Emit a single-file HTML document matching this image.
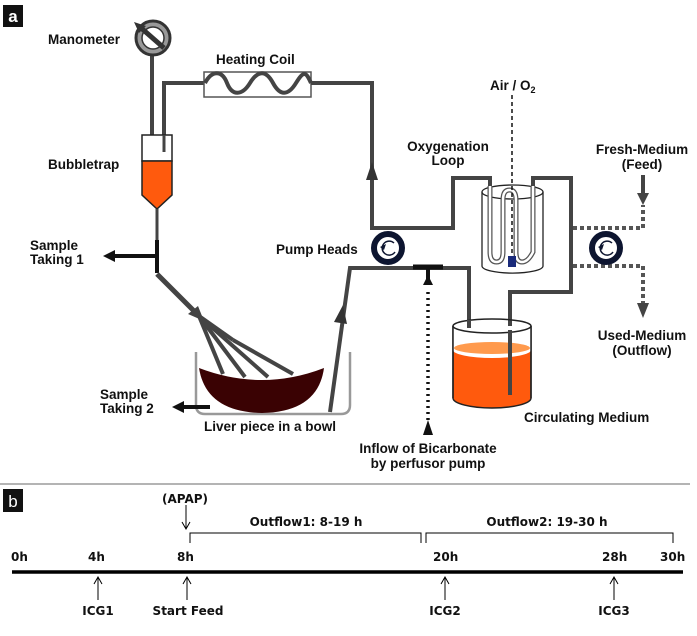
<!DOCTYPE html>
<html><head><meta charset="utf-8"><style>
html,body{margin:0;padding:0;background:#fff;}
svg{display:block;}
.l{font-family:"Liberation Sans",Arial,sans-serif;font-weight:bold;font-size:13.5px;fill:#111;}
.t{font-family:"DejaVu Sans",Verdana,sans-serif;font-weight:bold;font-size:12px;fill:#111;}
</style></head><body>
<svg width="697" height="636" viewBox="0 0 697 636" xmlns="http://www.w3.org/2000/svg">
<rect x="3" y="5" width="20" height="22" fill="#111"/>
<text x="13" y="22" text-anchor="middle" font-family="Liberation Sans,sans-serif" font-size="17" font-weight="bold" fill="#fff">a</text>
<rect x="3" y="489" width="20" height="23" fill="#111"/>
<text x="13" y="507" text-anchor="middle" font-family="Liberation Sans,sans-serif" font-size="17" fill="#fff">b</text>

<!-- manometer -->
<line x1="152" y1="55" x2="152" y2="135" stroke="#444" stroke-width="4"/>
<circle cx="153" cy="38" r="17" fill="#999" stroke="#333" stroke-width="3"/>
<circle cx="153" cy="38" r="11" fill="#fff" stroke="#333" stroke-width="1.5"/>
<line x1="164" y1="48" x2="140" y2="27" stroke="#333" stroke-width="5"/>
<path d="M134,22 L146,26 L139,33 z" fill="#333"/>
<text x="48" y="44" class="l">Manometer</text>

<!-- heating coil -->
<polyline points="164,152 164,83 205,83" fill="none" stroke="#444" stroke-width="4"/>
<rect x="204" y="72" width="107" height="25" fill="#fff" stroke="#555" stroke-width="1.5"/>
<path d="M205,83 C212,70 222,70 227,83 S242,96 250,83 S266,70 273,83 S288,96 296,83 S306,72 311,83" fill="none" stroke="#444" stroke-width="4"/>
<polyline points="311,83 372,83 372,228 453,228 453,178 490,178 490,198" fill="none" stroke="#444" stroke-width="4"/>
<polyline points="533,198 533,178 571,178 571,292 510,292 510,395" fill="none" stroke="#444" stroke-width="4"/>
<path d="M366,180 L372,162 L378,180 z" fill="#333"/>
<text x="216" y="64" class="l">Heating Coil</text>

<!-- bubbletrap -->
<rect x="142" y="135" width="30" height="26" fill="#fff" stroke="#222" stroke-width="1.5"/>
<path d="M142,161 L172,161 L172,195 L157,209 L142,195 z" fill="#ff5a0d" stroke="#222" stroke-width="1.5"/>
<line x1="164" y1="135" x2="164" y2="152" stroke="#444" stroke-width="3"/>
<text x="48" y="169" class="l">Bubbletrap</text>

<!-- sample 1 -->
<line x1="157" y1="209" x2="157" y2="240" stroke="#444" stroke-width="3"/>
<line x1="157" y1="240" x2="157" y2="273" stroke="#111" stroke-width="4"/>
<line x1="157" y1="256" x2="112" y2="256" stroke="#111" stroke-width="4"/>
<path d="M103,256 L115,250 L115,262 z" fill="#111"/>
<text x="30" y="250" class="l">Sample</text>
<text x="30" y="264" class="l">Taking 1</text>
<line x1="157" y1="274" x2="199" y2="316" stroke="#444" stroke-width="5"/>
<path d="M204,321 L188,314 L198,306 z" fill="#444"/>

<!-- bowl -->
<path d="M196,352 L196,405 Q196,414 205,414 L341,414 Q350,414 350,405 L350,352" fill="none" stroke="#999" stroke-width="2.5"/>
<path d="M199,368 Q262,392 324,368 Q318,412 262,413 Q206,412 199,368 z" fill="#3a0203"/>
<g stroke="#444" stroke-width="4">
<line x1="199" y1="316" x2="223" y2="374"/>
<line x1="199" y1="316" x2="245" y2="377"/>
<line x1="199" y1="316" x2="268" y2="377"/>
<line x1="199" y1="316" x2="233" y2="340"/>
<line x1="233" y1="340" x2="293" y2="374"/>
</g>
<line x1="210" y1="407" x2="182" y2="407" stroke="#111" stroke-width="4"/>
<path d="M172,407 L184,401 L184,413 z" fill="#111"/>
<text x="100" y="399" class="l">Sample</text>
<text x="100" y="413" class="l">Taking 2</text>
<text x="204" y="431" class="l">Liver piece in a bowl</text>

<!-- return pipe -->
<polyline points="330,412 350,268 469,268 469,328" fill="none" stroke="#444" stroke-width="4"/>
<path d="M334,322 L343,305 L347,324 z" fill="#333"/>
<text x="276" y="254" class="l">Pump Heads</text>
<circle cx="388" cy="248" r="14" fill="#fff" stroke="#0d1530" stroke-width="6"/>
<path d="M394,243 A7,7 0 1 0 395,252" fill="none" stroke="#0d1530" stroke-width="1.5"/>
<path d="M380,247 L384,250 L386,244 z" fill="#0d1530"/>
<line x1="413" y1="267" x2="443" y2="267" stroke="#111" stroke-width="5"/>
<line x1="428" y1="267" x2="428" y2="283" stroke="#111" stroke-width="4"/>
<path d="M423,285 L428,275 L433,285 z" fill="#111"/>
<line x1="428" y1="292" x2="428" y2="420" stroke="#111" stroke-width="3.5" stroke-dasharray="2,4"/>
<path d="M423,435 L428,420 L433,435 z" fill="#111"/>
<text x="428" y="453" class="l" text-anchor="middle">Inflow of Bicarbonate</text>
<text x="428" y="468" class="l" text-anchor="middle">by perfusor pump</text>

<!-- oxygenator -->
<path d="M482,192 L482,266 A30,7 0 0 0 543,266 L543,192" fill="#fff" stroke="#222" stroke-width="1.3"/>
<ellipse cx="512.5" cy="192" rx="30.5" ry="7" fill="none" stroke="#222" stroke-width="1.3"/>
<path d="M490,186 L490,252 Q490,262 496.5,262 Q503,262 503,252 L503,200 Q503,190 509.5,190 Q516,190 516,200 L516,252 Q516,262 522,262 Q528,262 533,252 L533,186" fill="none" stroke="#555" stroke-width="5"/>
<path d="M490,186 L490,252 Q490,262 496.5,262 Q503,262 503,252 L503,200 Q503,190 509.5,190 Q516,190 516,200 L516,252 Q516,262 522,262 Q528,262 533,252 L533,186" fill="none" stroke="#fff" stroke-width="2.5"/>
<line x1="512" y1="95" x2="512" y2="258" stroke="#111" stroke-width="1.5" stroke-dasharray="4,3"/>
<rect x="508" y="256" width="8" height="11" fill="#1a2a7a"/>
<text x="490" y="90" class="l">Air / O<tspan font-size="9" dy="3">2</tspan></text>
<text x="448" y="151" class="l" text-anchor="middle">Oxygenation</text>
<text x="448" y="165" class="l" text-anchor="middle">Loop</text>

<!-- beaker -->
<path d="M453,326 L453,398 A39,10 0 0 0 531,398 L531,326" fill="#ff5a0d" stroke="#222" stroke-width="1.5"/>
<path d="M453,326 L453,350 A39,8 0 0 0 531,350 L531,326 z" fill="#fff"/>
<ellipse cx="492" cy="348" rx="38" ry="6" fill="#ff9a4d"/>
<ellipse cx="492" cy="326" rx="39" ry="7" fill="none" stroke="#222" stroke-width="1.5"/>
<line x1="453" y1="326" x2="453" y2="398" stroke="#222" stroke-width="1.5"/>
<line x1="531" y1="326" x2="531" y2="398" stroke="#222" stroke-width="1.5"/>
<line x1="469" y1="320" x2="469" y2="328" stroke="#444" stroke-width="4"/>
<line x1="510" y1="330" x2="510" y2="395" stroke="#444" stroke-width="4"/>
<text x="524" y="422" class="l">Circulating Medium</text>

<!-- feed pump -->
<g stroke="#555" stroke-width="4" stroke-dasharray="4,3" fill="none">
<polyline points="573,228 643,228 643,205"/>
<polyline points="573,266 643,266 643,305"/>
</g>
<line x1="643" y1="175" x2="643" y2="195" stroke="#444" stroke-width="4"/>
<path d="M637,193 L643,205 L649,193 z" fill="#444"/>
<path d="M637,303 L643,318 L649,303 z" fill="#444"/>
<circle cx="606" cy="248" r="14" fill="#fff" stroke="#0d1530" stroke-width="6"/>
<path d="M612,243 A7,7 0 1 0 613,252" fill="none" stroke="#0d1530" stroke-width="1.5"/>
<path d="M598,247 L602,250 L604,244 z" fill="#0d1530"/>
<text x="642" y="154" class="l" text-anchor="middle">Fresh-Medium</text>
<text x="642" y="169" class="l" text-anchor="middle">(Feed)</text>
<text x="642" y="340" class="l" text-anchor="middle">Used-Medium</text>
<text x="642" y="355" class="l" text-anchor="middle">(Outflow)</text>

<line x1="0" y1="484" x2="690" y2="484" stroke="#888" stroke-width="1.2"/>

<!-- timeline -->
<line x1="12" y1="572" x2="683" y2="572" stroke="#000" stroke-width="3.5"/>
<text x="11" y="561" class="t">0h</text>
<text x="88" y="561" class="t">4h</text>
<text x="177" y="561" class="t">8h</text>
<text x="433" y="561" class="t">20h</text>
<text x="602" y="561" class="t">28h</text>
<text x="660" y="561" class="t">30h</text>
<g stroke="#000" stroke-width="1" fill="none">
<line x1="98" y1="600" x2="98" y2="578"/><polyline points="94,584 98,577 102,584"/>
<line x1="187" y1="600" x2="187" y2="578"/><polyline points="183,584 187,577 191,584"/>
<line x1="445" y1="600" x2="445" y2="578"/><polyline points="441,584 445,577 449,584"/>
<line x1="614" y1="600" x2="614" y2="578"/><polyline points="610,584 614,577 618,584"/>
<line x1="186" y1="505" x2="186" y2="528"/><polyline points="182,522 186,529 190,522"/>
<polyline points="190,543 190,533 421,533 421,543"/>
<polyline points="426,543 426,533 673,533 673,543"/>
</g>
<text x="98" y="615" class="t" font-size="11" text-anchor="middle">ICG1</text>
<text x="188" y="615" class="t" font-size="10.5" text-anchor="middle">Start Feed</text>
<text x="445" y="615" class="t" font-size="11" text-anchor="middle">ICG2</text>
<text x="614" y="615" class="t" font-size="11" text-anchor="middle">ICG3</text>
<text x="185" y="503" class="t" font-size="10.5" text-anchor="middle">(APAP)</text>
<text x="306" y="526" class="t" font-size="11" text-anchor="middle">Outflow1: 8-19 h</text>
<text x="547" y="526" class="t" font-size="11" text-anchor="middle">Outflow2: 19-30 h</text>
</svg>
</body></html>
